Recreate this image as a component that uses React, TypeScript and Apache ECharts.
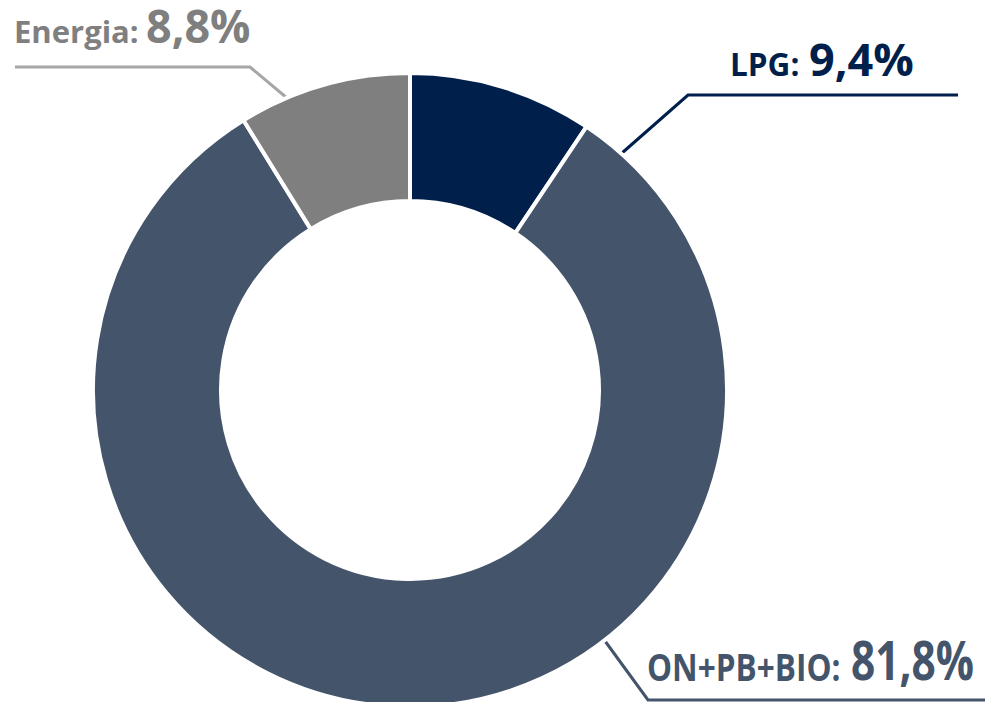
import React, { useEffect, useRef } from "react";
import * as echarts from "echarts";

const categories = ["LPG", "ON+PB+BIO", "Energia"];
const values = [9.4, 81.8, 8.8];
const sliceColors = ["#001f4b", "#44546a", "#7f7f7f"];
const labelColors = ["#001f4b", "#44546a", "#7f7f7f"];
const lineColors = ["#001f4b", "#44546a", "#a6a6a6"];

const fmt = (v: number) => v.toFixed(1).replace(".", ",") + "%";

const FONT = "'Open Sans', sans-serif";
const BASE = 0.92;

function txt(text: string, x: number, baseline: number, size: number, color: string, sx = 1) {
  return {
    type: "text",
    x,
    y: baseline - BASE * size,
    scaleX: sx,
    style: { text, font: `bold ${size}px ${FONT}`, fill: color, align: "left", verticalAlign: "top" },
  };
}

export default function App() {
  const ref = useRef<HTMLDivElement>(null);
  useEffect(() => {
    if (!ref.current) return;
    const chart = echarts.init(ref.current, null, { renderer: "svg" });
    chart.setOption({
      animation: false,
      series: [
        {
          type: "pie",
          center: [410, 390],
          radius: [189, 317],
          startAngle: 90,
          clockwise: true,
          label: { show: false },
          labelLine: { show: false },
          itemStyle: { borderColor: "#ffffff", borderWidth: 4 },
          emphasis: { disabled: true },
          data: categories.map((c, i) => ({ name: c, value: values[i], itemStyle: { color: sliceColors[i] } })),
        },
      ],
      graphic: [
        { type: "polyline", shape: { points: [[15, 67], [250, 67], [287, 98]] }, style: { stroke: lineColors[2], lineWidth: 3, fill: null } },
        { type: "polyline", shape: { points: [[622, 153], [688, 95], [958, 95]] }, style: { stroke: lineColors[0], lineWidth: 3, fill: null } },
        { type: "polyline", shape: { points: [[605, 641], [648, 700], [985, 700]] }, style: { stroke: lineColors[1], lineWidth: 3, fill: null } },
        txt(`${categories[2]}:`, 14, 44, 31, labelColors[2], 1.0),
        txt(fmt(values[2]), 146, 44, 46, labelColors[2], 0.975),
        txt(`${categories[0]}:`, 730, 77, 32.5, labelColors[0], 0.97),
        txt(fmt(values[0]), 809, 77, 45, labelColors[0], 1.0),
        txt(`${categories[1]}:`, 647, 682, 38, labelColors[1], 0.83),
        txt(fmt(values[1]), 851, 682, 53, labelColors[1], 0.8),
      ],
    });
    return () => chart.dispose();
  }, []);
  return <div ref={ref} style={{ position: "fixed", left: 0, top: 0, width: 990, height: 702, background: "#ffffff" }} />;
}
